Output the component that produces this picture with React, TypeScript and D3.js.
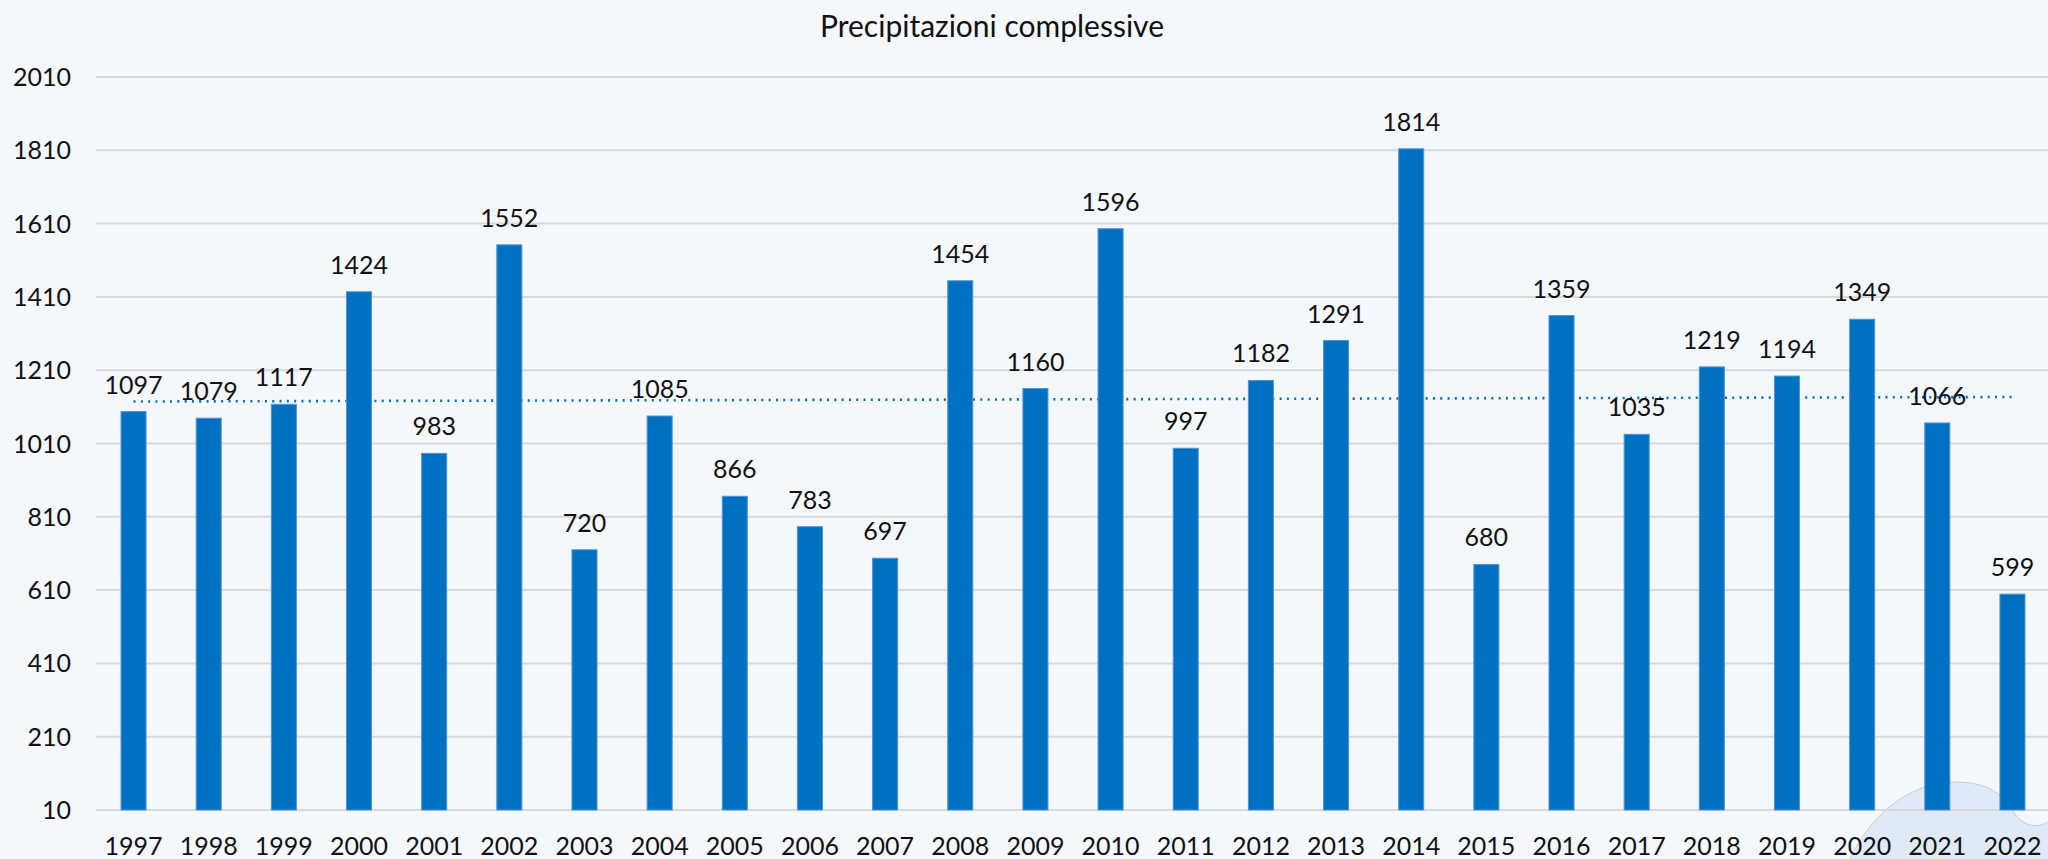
import React from "react";
import * as d3 from "d3";

const years = ["1997", "1998", "1999", "2000", "2001", "2002", "2003", "2004", "2005", "2006", "2007", "2008", "2009",
  "2010", "2011", "2012", "2013", "2014", "2015", "2016", "2017", "2018", "2019", "2020", "2021", "2022"];
const rain = [1097, 1079, 1117, 1424, 983, 1552, 720, 1085, 866, 783, 697, 1454, 1160,
  1596, 997, 1182, 1291, 1814, 680, 1359, 1035, 1219, 1194, 1349, 1066, 599];
const yTicks = [10, 210, 410, 610, 810, 1010, 1210, 1410, 1610, 1810, 2010];
const title = "Precipitazioni complessive";

const W = 2048;
const H = 859;
const FONT = "Lato, 'Open Sans', sans-serif";

export default function App() {
  const x = d3.scaleBand<string>().domain(years).range([96, 2050]).paddingInner(0.667).paddingOuter(0.333);
  const y = d3.scaleLinear().domain([10, 2010]).range([810, 77]);

  // linear trend like excel's, on the category index
  const idx = rain.map((_, i) => i);
  const mx = d3.mean(idx) as number;
  const my = d3.mean(rain) as number;
  const slope = d3.sum(idx, (i) => (i - mx) * (rain[i] - my)) / d3.sum(idx, (i) => (i - mx) ** 2);
  const b = my - slope * mx;
  const trend = d3.line<number>()
    .x((i) => (x(years[i]) as number) + x.bandwidth() / 2)
    .y((i) => y(b + slope * i));

  return (
    <div style={{ position: "fixed", left: 0, top: 0 }}>
      <svg width={W} height={H} style={{ display: "block" }}>
        <rect width={W} height={H} fill="#f4f7fc" />
        <path d="M1850,859 C1872,812 1912,782 1955,782 C1990,782 2004,796 2013,811 C2022,826 2036,829 2048,822 L2048,859 Z"
          fill="#dfe9f7" stroke="none" />
        <path d="M1850,859 C1872,812 1912,782 1955,782 C1990,782 2004,796 2013,811 C2022,826 2036,829 2048,822"
          fill="none" stroke="#b9c3ce" strokeWidth={0.8} />
        <text x={992} y={37} textAnchor="middle" fontFamily={FONT} fontSize={30} fill="#111">{title}</text>
        {yTicks.map((t) => (
          <g key={t}>
            <line x1={96} x2={W} y1={y(t)} y2={y(t)} stroke="#d9d9d9" strokeWidth={2} />
            <text x={71} y={y(t) + 9} textAnchor="end" fontFamily={FONT} fontSize={25} fill="#111">{t}</text>
          </g>
        ))}
        <path d={trend([0, years.length - 1]) as string} fill="none" stroke="#0070c0" strokeWidth={2.6}
          strokeDasharray="2 5.3" />
        {rain.map((v, i) => (
          <g key={years[i]}>
            <rect x={x(years[i])} y={y(v)} width={x.bandwidth()} height={y(10) - y(v)} fill="#0070c0"
              stroke="#4f95d3" strokeWidth={1} />
            <text x={(x(years[i]) as number) + x.bandwidth() / 2} y={y(v) - 18} textAnchor="middle"
              fontFamily={FONT} fontSize={25} fill="#111">{v}</text>
            <text x={(x(years[i]) as number) + x.bandwidth() / 2} y={855} textAnchor="middle"
              fontFamily={FONT} fontSize={25} fill="#111">{years[i]}</text>
          </g>
        ))}
      </svg>
    </div>
  );
}
